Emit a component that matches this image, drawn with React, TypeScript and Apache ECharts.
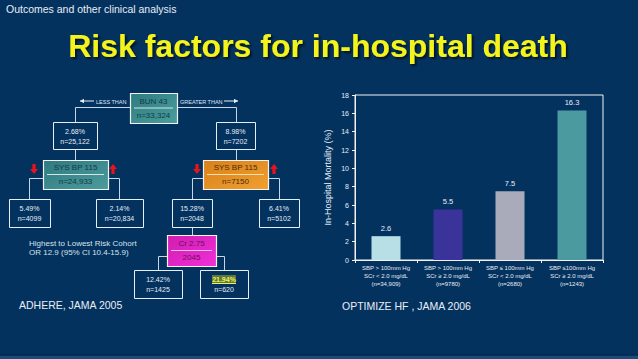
import React, { useEffect, useRef } from "react";
import * as echarts from "echarts";

// ---- chart data ----
const categories = [
  "SBP > 100mm Hg\nSCr < 2.0 mg/dL\n(n=34,909)",
  "SBP > 100mm Hg\nSCr ≥ 2.0 mg/dL\n(n=9780)",
  "SBP ≤ 100mm Hg\nSCr < 2.0 mg/dL\n(n=2680)",
  "SBP ≤100mm Hg\nSCr ≥ 2.0 mg/dL\n(n=1243)",
];
const mortality = [2.6, 5.5, 7.5, 16.3];
const yTicks = [0, 2, 4, 6, 8, 10, 12, 14, 16, 18];

// ---- texts ----
const headerText = "Outcomes and other clinical analysis";
const titleText = "Risk factors for in-hospital death";
const leftSource = "ADHERE, JAMA 2005";
const rightSource = "OPTIMIZE HF , JAMA 2006";
const yAxisTitle = "In-Hospital Mortality (%)";
const cohortNote = ["Highest to Lowest Risk Cohort", "OR 12.9 (95% CI 10.4-15.9)"];
const splitNodes = [
  ["BUN 43", "n=33,324"],
  ["SYS BP 115", "n=24,933"],
  ["SYS BP 115", "n=7150"],
  ["Cr 2.75", "2045"],
];
const leafNodes = [
  ["2.68%", "n=25,122"],
  ["8.98%", "n=7202"],
  ["5.49%", "n=4099"],
  ["2.14%", "n=20,834"],
  ["15.28%", "n=2048"],
  ["6.41%", "n=5102"],
  ["12.42%", "n=1425"],
  ["21.94%", "n=620"],
];
const branchLabels = ["LESS THAN", "GREATER THAN"];

const BG = "#04325f";
const FONT = "Liberation Sans, Arial, sans-serif";
const barColors = ["#b9dfe6", "#3a3399", "#a9abbb", "#4b9aa0"];

function grad(c1: string, c2: string) {
  return new echarts.graphic.LinearGradient(0, 0, 1, 1, [
    { offset: 0, color: c1 },
    { offset: 1, color: c2 },
  ]);
}

function txt(x: number, y: number, text: string, size: number, fill: string, align = "center", extra: any = {}) {
  return {
    type: "text",
    x,
    y,
    silent: true,
    style: {
      text,
      fill,
      fontSize: size,
      fontFamily: FONT,
      fontWeight: "normal",
      textAlign: align,
      align,
      textVerticalAlign: "middle",
      verticalAlign: "middle",
      ...extra,
    },
  };
}

function line(points: number[][], color = "#c9d6e6") {
  return {
    type: "polyline",
    silent: true,
    shape: { points },
    style: { stroke: color, lineWidth: 1, fill: null },
  };
}

function leafBox(x: number, y: number, w: number, h: number, lines: string[], highlight = false) {
  const els: any[] = [
    {
      type: "rect",
      silent: true,
      shape: { x: x + 0.5, y: y + 0.5, width: w, height: h },
      style: { fill: BG, stroke: "#e6eef6", lineWidth: 1 },
    },
  ];
  const cx = x + w / 2;
  if (highlight) {
    els.push({
      type: "rect",
      silent: true,
      shape: { x: cx - 12, y: y + 5, width: 24, height: 8 },
      style: { fill: "#5d7a3a" },
    });
    els.push(txt(cx, y + 9, lines[0], 7, "#f0f060", "center", { fontWeight: "bold" }));
    els.push(line([[cx - 12, y + 13.5], [cx + 12, y + 13.5]], "#f0f060"));
  } else {
    els.push(txt(cx, y + 9, lines[0], 7, "#e4ecf4"));
  }
  els.push(txt(cx, y + 19.5, lines[1], 7, "#e4ecf4"));
  return els;
}

function splitBox(x: number, y: number, w: number, h: number, lines: string[], fill: any, textColor: string, divColor: string) {
  const cx = x + w / 2;
  const midY = y + h / 2;
  return [
    {
      type: "rect",
      silent: true,
      shape: { x: x + 0.5, y: y + 0.5, width: w, height: h },
      style: { fill, stroke: "#f2f2f2", lineWidth: 1.2 },
    },
    txt(cx, midY - 7, lines[0], 8, textColor),
    line([[x + 4, midY], [x + w - 4, midY]], divColor),
    txt(cx, midY + 7, lines[1], 8, textColor),
  ];
}

function arrow(cx: number, top: number, bottom: number, up: boolean) {
  const headH = 5;
  const pts = up
    ? [
        [cx, top],
        [cx + 4, top + headH],
        [cx + 1.6, top + headH],
        [cx + 1.6, bottom],
        [cx - 1.6, bottom],
        [cx - 1.6, top + headH],
        [cx - 4, top + headH],
      ]
    : [
        [cx, bottom],
        [cx + 4, bottom - headH],
        [cx + 1.6, bottom - headH],
        [cx + 1.6, top],
        [cx - 1.6, top],
        [cx - 1.6, bottom - headH],
        [cx - 4, bottom - headH],
      ];
  return { type: "polygon", silent: true, shape: { points: pts }, style: { fill: "#e8141c" } };
}

function hArrow(x1: number, x2: number, y: number, left: boolean) {
  const tip = left ? x1 : x2;
  const dir = left ? 1 : -1;
  return [
    line([[x1, y], [x2, y]], "#e6eef6"),
    {
      type: "polygon",
      silent: true,
      shape: { points: [[tip, y], [tip + dir * 4, y - 2.2], [tip + dir * 4, y + 2.2]] },
      style: { fill: "#e6eef6" },
    },
  ];
}

function buildGraphics() {
  const g: any[] = [];
  // background
  g.push({ type: "rect", silent: true, z: -10, shape: { x: 0, y: 0, width: 638, height: 359 }, style: { fill: BG } });
  g.push({ type: "rect", silent: true, shape: { x: 0, y: 354, width: 638, height: 1 }, style: { fill: "#022a52" } });
  g.push({ type: "rect", silent: true, shape: { x: 0, y: 356, width: 638, height: 3 }, style: { fill: "#1b4c7c" } });

  // header and title
  g.push(txt(6, 9, headerText, 10.5, "#e8eef6", "left"));
  g.push(
    txt(318, 46, titleText, 32, "#f4f41c", "center", {
      fontWeight: "bold",
      textShadowColor: "rgba(0,0,0,0.6)",
      textShadowOffsetX: 2,
      textShadowOffsetY: 2,
      textShadowBlur: 2,
    })
  );

  // tree connectors
  g.push(line([[75.5, 122], [75.5, 107.5], [130, 107.5]]));
  g.push(line([[177, 107.5], [236.5, 107.5], [236.5, 122]]));
  g.push(line([[75.5, 149], [75.5, 160]]));
  g.push(line([[236.5, 149], [236.5, 160]]));
  g.push(line([[43, 178.5], [29.5, 178.5], [29.5, 199]]));
  g.push(line([[108, 178.5], [119.5, 178.5], [119.5, 199]]));
  g.push(line([[203, 178.5], [192.5, 178.5], [192.5, 199]]));
  g.push(line([[268, 178.5], [279.5, 178.5], [279.5, 199]]));
  g.push(line([[192.5, 227], [192.5, 235]]));
  g.push(line([[167, 256.5], [158.5, 256.5], [158.5, 270]]));
  g.push(line([[216, 256.5], [224.5, 256.5], [224.5, 270]]));

  // branch labels
  g.push(...hArrow(80, 94, 101, true));
  g.push(txt(96, 101.5, branchLabels[0], 5.5, "#dfe8f2", "left"));
  g.push(txt(180, 101.5, branchLabels[1], 5.5, "#dfe8f2", "left"));
  g.push(...hArrow(224, 238, 101, false));

  // split nodes
  g.push(...splitBox(130, 93, 47, 30, splitNodes[0], grad("#2e7c80", "#4a9e9e"), "#163848", "#d6e6e6"));
  g.push(...splitBox(43, 160, 65, 29, splitNodes[1], grad("#2e7a80", "#4c9c9c"), "#163848", "#d6e6e6"));
  g.push(...splitBox(203, 160, 65, 29, splitNodes[2], grad("#d9801a", "#f0a030"), "#4a2a08", "#f6e0b0"));
  g.push(...splitBox(167, 235, 49, 31, splitNodes[3], grad("#d01cb0", "#f030d8"), "#6a1060", "#f6c8f0"));

  // red arrows
  g.push(arrow(34, 164, 174, false));
  g.push(arrow(113, 164, 174, true));
  g.push(arrow(197, 164, 174, false));
  g.push(arrow(274, 164, 174, true));

  // leaf nodes
  const leafPos = [
    [53, 122, 44, 27],
    [216, 122, 39, 27],
    [9, 199, 41, 28],
    [96, 199, 47, 28],
    [172, 199, 40, 28],
    [259, 199, 40, 28],
    [134, 270, 48, 28],
    [200, 270, 48, 28],
  ];
  leafNodes.forEach((n, i) => {
    const [x, y, w, h] = leafPos[i];
    g.push(...leafBox(x, y, w, h, n, i === 7));
  });

  // notes
  g.push(txt(29, 243, cohortNote[0], 8, "#d6e2ee", "left"));
  g.push(txt(29, 252, cohortNote[1], 8, "#d6e2ee", "left"));
  g.push(txt(19, 305, leftSource, 10.5, "#e8eef6", "left"));
  g.push(txt(342, 306, rightSource, 10.5, "#e8eef6", "left"));
  return g;
}

export default function App() {
  const ref = useRef<HTMLDivElement>(null);
  useEffect(() => {
    if (!ref.current) return;
    const chart = echarts.init(ref.current, undefined, { renderer: "svg" });
    chart.setOption({
      animation: false,
      backgroundColor: BG,
      textStyle: { fontFamily: FONT },
      grid: {
        left: 355,
        right: 35,
        top: 95,
        bottom: 99,
        show: true,
        borderColor: "#f2f2f2",
        borderWidth: 1,
        backgroundColor: "transparent",
      },
      xAxis: {
        type: "category",
        data: categories,
        axisLine: { lineStyle: { color: "#f2f2f2", width: 1 } },
        axisTick: { show: true, length: 3, alignWithLabel: false, lineStyle: { color: "#f2f2f2" } },
        axisLabel: {
          color: "#e6eef6",
          fontSize: 6,
          lineHeight: 8,
          margin: 4,
          interval: 0,
        },
      },
      yAxis: {
        type: "value",
        min: yTicks[0],
        max: yTicks[yTicks.length - 1],
        interval: 2,
        name: yAxisTitle,
        nameLocation: "middle",
        nameGap: 23,
        nameTextStyle: { color: "#e6eef6", fontSize: 9 },
        splitLine: { show: false },
        axisLine: { show: true, lineStyle: { color: "#f2f2f2" } },
        axisTick: { show: true, length: 3, lineStyle: { color: "#f2f2f2" } },
        axisLabel: { color: "#e6eef6", fontSize: 7, margin: 6 },
      },
      series: [
        {
          type: "bar",
          barWidth: 29,
          data: mortality.map((v, i) => ({ value: v, itemStyle: { color: barColors[i] } })),
          label: {
            show: true,
            position: "top",
            distance: 4,
            color: "#e6eef6",
            fontSize: 7.5,
          },
        },
      ],
      graphic: { elements: buildGraphics() },
    });
    return () => chart.dispose();
  }, []);
  return (
    <div
      ref={ref}
      style={{ position: "fixed", left: 0, top: 0, width: 638, height: 359 }}
    />
  );
}
